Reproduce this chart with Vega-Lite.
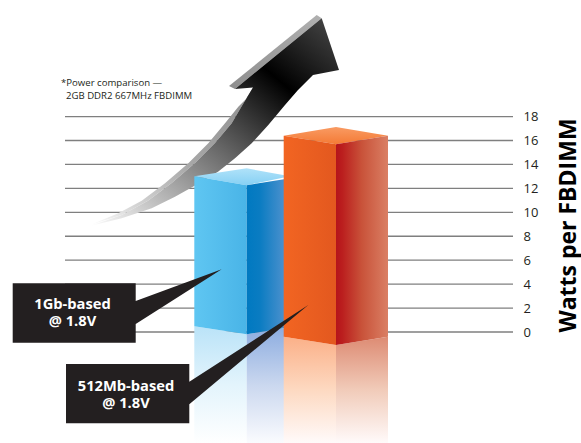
{
"$schema":"https://vega.github.io/schema/vega-lite/v6.json",
"width":581,"height":443,"padding":0,"autosize":{"type":"none"},
"background":"#ffffff",
"config":{"view":{"stroke":null}},
"data":{"values":[
{"part":"edgeHead","i":0,"x":316.7,"w":26.48},{"part":"edgeHead","i":1,"x":321.7,"w":26.21},{"part":"edgeHead","i":2,"x":235,"w":20.3},{"part":"edgeHead","i":3,"x":229,"w":20.55},
{"part":"edgeBody","i":0,"x":90,"w":8.94},{"part":"edgeBody","i":1,"x":118.3,"w":9.92},{"part":"edgeBody","i":2,"x":141.7,"w":10.97},{"part":"edgeBody","i":3,"x":165,"w":12.42},{"part":"edgeBody","i":4,"x":188.3,"w":14.09},{"part":"edgeBody","i":5,"x":208.3,"w":15.76},{"part":"edgeBody","i":6,"x":225,"w":17.44},{"part":"edgeBody","i":7,"x":238.3,"w":18.82},{"part":"edgeBody","i":8,"x":260,"w":20.63},{"part":"edgeBody","i":9,"x":253,"w":20.43},{"part":"edgeBody","i":10,"x":243,"w":19.05},{"part":"edgeBody","i":11,"x":231.7,"w":17.44},{"part":"edgeBody","i":12,"x":215,"w":15.79},{"part":"edgeBody","i":13,"x":195,"w":14.12},{"part":"edgeBody","i":14,"x":171.7,"w":12.45},{"part":"edgeBody","i":15,"x":148,"w":10.97},{"part":"edgeBody","i":16,"x":121.7,"w":9.77},
{"part":"arrow","i":0,"x":321.7,"w":26.21},{"part":"arrow","i":1,"x":339,"w":21.89},{"part":"arrow","i":2,"x":313,"w":21.47},{"part":"arrow","i":3,"x":298,"w":20.22},{"part":"arrow","i":4,"x":285,"w":18.96},{"part":"arrow","i":5,"x":268.3,"w":17.29},{"part":"arrow","i":6,"x":251.7,"w":15.76},{"part":"arrow","i":7,"x":235,"w":14.51},{"part":"arrow","i":8,"x":218,"w":13.39},{"part":"arrow","i":9,"x":196,"w":12.28},{"part":"arrow","i":10,"x":175,"w":11.3},{"part":"arrow","i":11,"x":151.7,"w":10.33},{"part":"arrow","i":12,"x":121.7,"w":9.5},{"part":"arrow","i":13,"x":90,"w":8.86},{"part":"arrow","i":14,"x":121.7,"w":9.77},{"part":"arrow","i":15,"x":148,"w":10.97},{"part":"arrow","i":16,"x":171.7,"w":12.45},{"part":"arrow","i":17,"x":195,"w":14.12},{"part":"arrow","i":18,"x":215,"w":15.79},{"part":"arrow","i":19,"x":231.7,"w":17.44},{"part":"arrow","i":20,"x":243,"w":19.05},{"part":"arrow","i":21,"x":253,"w":20.43},{"part":"arrow","i":22,"x":235,"w":20.3},
{"part":"blueReflL","i":0,"x":194.3,"w":0.48},{"part":"blueReflL","i":1,"x":246.7,"w":-0.19},{"part":"blueReflL","i":2,"x":246.7,"w":-9.27},{"part":"blueReflL","i":3,"x":194.3,"w":-9.27},
{"part":"blueReflR","i":0,"x":246.7,"w":-0.19},{"part":"blueReflR","i":1,"x":284,"w":0.31},{"part":"blueReflR","i":2,"x":284,"w":-9.27},{"part":"blueReflR","i":3,"x":246.7,"w":-9.27},
{"part":"orangeReflL","i":0,"x":283.7,"w":-0.39},{"part":"orangeReflL","i":1,"x":336,"w":-1.09},{"part":"orangeReflL","i":2,"x":336,"w":-9.27},{"part":"orangeReflL","i":3,"x":283.7,"w":-9.27},
{"part":"orangeReflR","i":0,"x":336,"w":-1.09},{"part":"orangeReflR","i":1,"x":388,"w":-0.39},{"part":"orangeReflR","i":2,"x":388,"w":-9.27},{"part":"orangeReflR","i":3,"x":336,"w":-9.27},
{"part":"blueTop","i":0,"x":194.3,"w":13.01},{"part":"blueTop","i":1,"x":246.7,"w":13.67},{"part":"blueTop","i":2,"x":290,"w":13.01},{"part":"blueTop","i":3,"x":246.7,"w":12.26},
{"part":"blueFront","i":0,"x":194.3,"w":13.01},{"part":"blueFront","i":1,"x":246.7,"w":12.26},{"part":"blueFront","i":2,"x":246.7,"w":-0.19},{"part":"blueFront","i":3,"x":194.3,"w":0.48},
{"part":"blueSide","i":0,"x":246.7,"w":12.26},{"part":"blueSide","i":1,"x":284,"w":12.76},{"part":"blueSide","i":2,"x":284,"w":0.31},{"part":"blueSide","i":3,"x":246.7,"w":-0.19},
{"part":"orangeTop","i":0,"x":283.7,"w":16.4},{"part":"orangeTop","i":1,"x":336,"w":17.13},{"part":"orangeTop","i":2,"x":388,"w":16.4},{"part":"orangeTop","i":3,"x":336,"w":15.68},
{"part":"orangeFront","i":0,"x":283.7,"w":16.4},{"part":"orangeFront","i":1,"x":336,"w":15.68},{"part":"orangeFront","i":2,"x":336,"w":-1.09},{"part":"orangeFront","i":3,"x":283.7,"w":-0.39},
{"part":"orangeSide","i":0,"x":336,"w":15.68},{"part":"orangeSide","i":1,"x":388,"w":16.4},{"part":"orangeSide","i":2,"x":388,"w":-0.39},{"part":"orangeSide","i":3,"x":336,"w":-1.09},
{"part":"callout1","i":0,"x":12.7,"w":4.07},{"part":"callout1","i":1,"x":135.7,"w":4.07},{"part":"callout1","i":2,"x":135.7,"w":2.59},{"part":"callout1","i":3,"x":221.7,"w":5.24},{"part":"callout1","i":4,"x":135.7,"w":0.67},{"part":"callout1","i":5,"x":135.7,"w":-0.89},{"part":"callout1","i":6,"x":12.7,"w":-0.89},
{"part":"callout2","i":0,"x":66,"w":-2.67},{"part":"callout2","i":1,"x":189.3,"w":-2.67},{"part":"callout2","i":2,"x":189.3,"w":-4.15},{"part":"callout2","i":3,"x":308.3,"w":2.26},{"part":"callout2","i":4,"x":189.3,"w":-6.04},{"part":"callout2","i":5,"x":189.3,"w":-7.63},{"part":"callout2","i":6,"x":66,"w":-7.63}
]},
"encoding":{
"x":{"field":"x","type":"quantitative","scale":{"domain":[0,581],"nice":false,"zero":false},"axis":null},
"y":{"field":"w","type":"quantitative","scale":{"domain":[-9.273,27.736],"nice":false,"zero":false},
"axis":{"orient":"right","offset":-58,"values":[0,2,4,6,8,10,12,14,16,18],"domain":false,"ticks":false,"grid":false,"labelPadding":0,"labelFont":"Open Sans","labelFontSize":13,"labelColor":"#231f20","labelAlign":"left",
"title":"Watts per FBDIMM","titleFont":"Open Sans","titleFontSize":23,"titleFontWeight":"bold","titleColor":"#000000","titleAngle":-90,"titleX":45,"titleY":225,"titleAlign":"center","titleBaseline":"middle"}}
},
"layer":[
{"data":{"values":[{"x":65,"x2":513,"w":0},{"x":65,"x2":513,"w":2},{"x":65,"x2":513,"w":4},{"x":65,"x2":513,"w":6},{"x":65,"x2":513,"w":8},{"x":65,"x2":513,"w":10},{"x":65,"x2":513,"w":12},{"x":65,"x2":513,"w":14},{"x":65,"x2":513,"w":16},{"x":65,"x2":513,"w":18}]},
"mark":{"type":"rule","stroke":"#7f7f7f","strokeWidth":1.3},"encoding":{"x2":{"field":"x2"}}},

{"transform":[{"filter":"datum.part==='edgeHead'"}],"mark":{"type":"line","strokeWidth":0,"fill":{"gradient":"linear","x1":1,"y1":0,"x2":0,"y2":1,"stops":[{"offset":0,"color":"#b0b0b0"},{"offset":1,"color":"#8e8e8e"}]}},"encoding":{"order":{"field":"i"}}},
{"transform":[{"filter":"datum.part==='edgeBody'"}],"mark":{"type":"line","strokeWidth":0,"fill":{"gradient":"linear","x1":1,"y1":0,"x2":0,"y2":1,"stops":[{"offset":0,"color":"#8e8e8e"},{"offset":0.5,"color":"#a8a8a8"},{"offset":0.8,"color":"#d5d5d5"},{"offset":1,"color":"#ffffff"}]}},"encoding":{"order":{"field":"i"}}},
{"transform":[{"filter":"datum.part==='arrow'"}],"mark":{"type":"line","strokeWidth":0,"fill":{"gradient":"linear","x1":1,"y1":0,"x2":0,"y2":1,"stops":[{"offset":0,"color":"#4a4a4a"},{"offset":0.15,"color":"#222222"},{"offset":0.27,"color":"#000000"},{"offset":0.55,"color":"#666666"},{"offset":0.75,"color":"#ababab"},{"offset":1,"color":"#ffffff"}]}},"encoding":{"order":{"field":"i"}}},

{"transform":[{"filter":"datum.part==='blueReflL'"}],"mark":{"type":"line","strokeWidth":0,"fill":{"gradient":"linear","x1":0,"y1":0,"x2":0,"y2":1,"stops":[{"offset":0,"color":"#bae3f8"},{"offset":0.5,"color":"#e3f4fc"},{"offset":1,"color":"#ffffff"}]}},"encoding":{"order":{"field":"i"}}},
{"transform":[{"filter":"datum.part==='blueReflR'"}],"mark":{"type":"line","strokeWidth":0,"fill":{"gradient":"linear","x1":0,"y1":0,"x2":0,"y2":1,"stops":[{"offset":0,"color":"#8dade0"},{"offset":0.5,"color":"#cbd8ef"},{"offset":1,"color":"#fafbfe"}]}},"encoding":{"order":{"field":"i"}}},
{"transform":[{"filter":"datum.part==='orangeReflL'"}],"mark":{"type":"line","strokeWidth":0,"fill":{"gradient":"linear","x1":0,"y1":0,"x2":0,"y2":1,"stops":[{"offset":0,"color":"#fbb088"},{"offset":0.5,"color":"#fdd9c1"},{"offset":1,"color":"#fffafa"}]}},"encoding":{"order":{"field":"i"}}},
{"transform":[{"filter":"datum.part==='orangeReflR'"}],"mark":{"type":"line","strokeWidth":0,"fill":{"gradient":"linear","x1":0,"y1":0,"x2":0,"y2":1,"stops":[{"offset":0,"color":"#dd8b73"},{"offset":0.5,"color":"#f1cbb9"},{"offset":1,"color":"#fffafa"}]}},"encoding":{"order":{"field":"i"}}},

{"transform":[{"filter":"datum.part==='blueTop'"}],"mark":{"type":"line","strokeWidth":0,"fill":{"gradient":"linear","x1":0.5,"y1":0,"x2":0.5,"y2":1,"stops":[{"offset":0,"color":"#b0e2f9"},{"offset":1,"color":"#86d0f4"}]}},"encoding":{"order":{"field":"i"}}},
{"transform":[{"filter":"datum.part==='blueFront'"}],"mark":{"type":"line","strokeWidth":0,"fill":{"gradient":"linear","x1":0,"y1":0,"x2":1,"y2":0,"stops":[{"offset":0,"color":"#5fc6f2"},{"offset":1,"color":"#49b4e7"}]}},"encoding":{"order":{"field":"i"}}},
{"transform":[{"filter":"datum.part==='blueSide'"}],"mark":{"type":"line","strokeWidth":0,"fill":{"gradient":"linear","x1":0,"y1":0,"x2":1,"y2":0,"stops":[{"offset":0,"color":"#0079c1"},{"offset":0.35,"color":"#0a7cc2"},{"offset":1,"color":"#4a90cd"}]}},"encoding":{"order":{"field":"i"}}},
{"transform":[{"filter":"datum.part==='orangeTop'"}],"mark":{"type":"line","strokeWidth":0,"fill":{"gradient":"linear","x1":0.5,"y1":0,"x2":0.5,"y2":1,"stops":[{"offset":0,"color":"#f99b63"},{"offset":1,"color":"#f47a35"}]}},"encoding":{"order":{"field":"i"}}},
{"transform":[{"filter":"datum.part==='orangeFront'"}],"mark":{"type":"line","strokeWidth":0,"fill":{"gradient":"linear","x1":0,"y1":0,"x2":1,"y2":0,"stops":[{"offset":0,"color":"#f26522"},{"offset":1,"color":"#e3581f"}]}},"encoding":{"order":{"field":"i"}}},
{"transform":[{"filter":"datum.part==='orangeSide'"}],"mark":{"type":"line","strokeWidth":0,"fill":{"gradient":"linear","x1":0,"y1":0,"x2":1,"y2":0,"stops":[{"offset":0,"color":"#b5141b"},{"offset":0.12,"color":"#bb1e1e"},{"offset":0.5,"color":"#c9533a"},{"offset":1,"color":"#da7f64"}]}},"encoding":{"order":{"field":"i"}}},

{"transform":[{"filter":"datum.part==='callout1'"}],"mark":{"type":"line","strokeWidth":0,"fill":"#231f20"},"encoding":{"order":{"field":"i"}}},
{"transform":[{"filter":"datum.part==='callout2'"}],"mark":{"type":"line","strokeWidth":0,"fill":"#231f20"},"encoding":{"order":{"field":"i"}}},

{"data":{"values":[{"label":"1Gb-based","x":72.5,"w":2.26},{"label":"@ 1.8V","x":72.5,"w":0.84},{"label":"512Mb-based","x":126,"w":-4.59},{"label":"@ 1.8V","x":126,"w":-6.02}]},
"mark":{"type":"text","font":"Open Sans","fontWeight":"bold","fontSize":14.7,"fill":"#ffffff","align":"center","baseline":"middle"},"encoding":{"text":{"field":"label"}}},
{"data":{"values":[{"label":"*Power comparison —","x":61,"w":20.8},{"label":"2GB DDR2 667MHz FBDIMM","x":66,"w":19.72}]},
"mark":{"type":"text","font":"Open Sans","fontSize":9.6,"fill":"#231f20","align":"left","baseline":"middle"},"encoding":{"text":{"field":"label"}}}
]
}
